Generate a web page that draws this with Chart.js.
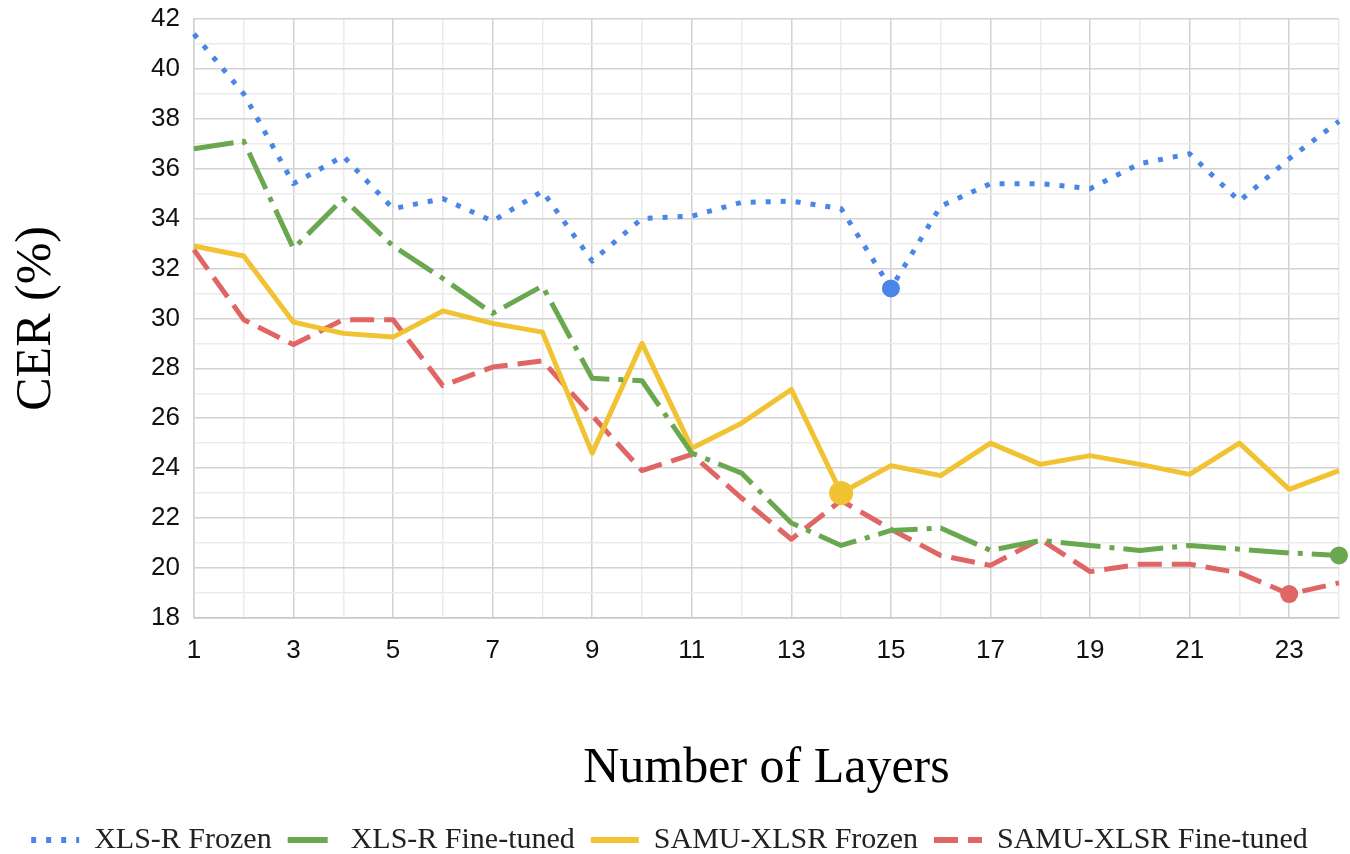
<!DOCTYPE html>
<html>
<head>
<meta charset="utf-8">
<title>CER by number of layers</title>
<script src="https://cdn.jsdelivr.net/npm/chart.js@4.4.1/dist/chart.umd.min.js"></script>
<style>
  html, body { margin: 0; padding: 0; background: #fff; }
  #wrap { width: 1350px; height: 854px; }
</style>
</head>
<body>
<div id="wrap"><canvas id="cerChart"></canvas></div>
<script>
// layers 1..24, CER (%)
const layers = [1, 2, 3, 4, 5, 6, 7, 8, 9, 10, 11, 12, 13, 14, 15, 16, 17, 18, 19, 20, 21, 22, 23, 24];
const xlsrFrozen = [41.4, 39.0, 35.4, 36.5, 34.4, 34.8, 33.9, 35.1, 32.3, 34.0, 34.1, 34.65, 34.7, 34.4, 31.2, 34.5, 35.4, 35.4, 35.2, 36.2, 36.6, 34.7, 36.4, 37.9];
const xlsrFineTuned = [36.8, 37.1, 32.8, 34.8, 32.9, 31.6, 30.2, 31.3, 27.6, 27.5, 24.6, 23.8, 21.8, 20.9, 21.5, 21.6, 20.7, 21.1, 20.9, 20.7, 20.9, 20.75, 20.6, 20.5];
const samuFrozen = [32.9, 32.5, 29.85, 29.4, 29.25, 30.3, 29.8, 29.45, 24.6, 29.0, 24.8, 25.8, 27.15, 23.0, 24.1, 23.7, 25.0, 24.15, 24.5, 24.15, 23.75, 25.0, 23.15, 23.9];
const samuFineTuned = [32.75, 29.95, 28.95, 29.95, 29.95, 27.3, 28.05, 28.3, 26.1, 23.9, 24.55, 22.8, 21.15, 22.7, 21.55, 20.5, 20.1, 21.15, 19.85, 20.15, 20.15, 19.8, 18.95, 19.4];

const yMin = 18;
const yMax = 42;

const BLUE = '#4a86e8';
const GREEN = '#6aa84f';
const YELLOW = '#f1c232';
const RED = '#e06666';

// only the best (lowest) layer of each series gets a dot
function minDot(values, r) {
    const best = values.indexOf(Math.min(...values));
    return values.map((v, i) => (i === best ? r : 0));
}

function line(label, values, color, dash, r) {
    return {
        label: label,
        data: values,
        borderColor: color,
        backgroundColor: color,
        borderWidth: 5,
        borderDash: dash,
        borderCapStyle: 'butt',
        borderJoinStyle: 'round',
        tension: 0,
        fill: false,
        pointRadius: minDot(values, r),
        pointHoverRadius: minDot(values, r),
        pointBackgroundColor: color,
        pointBorderWidth: 0
    };
}

const ctx = document.getElementById('cerChart').getContext('2d');
const chart = new Chart(ctx, {
    type: 'line',
    data: {
        labels: layers,
        datasets: [
            line('XLS-R Frozen', xlsrFrozen, BLUE, [5, 10], 9),
            line('XLS-R Fine-tuned', xlsrFineTuned, GREEN, [40, 9, 5, 9], 9),
            line('SAMU-XLSR Frozen', samuFrozen, YELLOW, [], 12),
            line('SAMU-XLSR Fine-tuned', samuFineTuned, RED, [24, 10], 9)
        ]
    },
    options: {
        responsive: true,
        maintainAspectRatio: false,
        animation: false,
        layout: {
            padding: { top: 19, right: 11, bottom: -11, left: 0 }
        },
        plugins: {
            tooltip: { enabled: false },
            legend: {
                position: 'bottom',
                labels: {
                    font: { family: 'Liberation Serif', size: 30 },
                    color: '#222',
                    usePointStyle: true,
                    pointStyleWidth: 48,
                    padding: 16,
                    generateLabels: (c) => c.data.datasets.map((ds, i) => ({
                        text: ds.label,
                        fillStyle: ds.borderColor,
                        strokeStyle: ds.borderColor,
                        lineWidth: 6,
                        lineDash: ds.borderDash,
                        lineCap: 'butt',
                        pointStyle: 'line',
                        fontColor: '#222',
                        hidden: !c.isDatasetVisible(i),
                        datasetIndex: i
                    }))
                }
            }
        },
        scales: {
            x: {
                type: 'category',
                offset: false,
                // keep the tick padding from pushing the plot in on the right
                afterFit: (s) => { s.paddingRight = 0; },
                border: { color: '#c8c8c8', width: 1.5 },
                grid: {
                    drawTicks: false,
                    lineWidth: 1.5,
                    color: (c) => (c.index % 2 === 0 ? '#d2d2d2' : '#ebebeb')
                },
                ticks: {
                    autoSkip: false,
                    maxRotation: 0,
                    padding: 17,
                    color: '#111',
                    font: { family: 'Liberation Sans', size: 26 },
                    callback: function (value, index) {
                        return index % 2 === 0 ? this.getLabelForValue(value) : '';
                    }
                },
                title: {
                    display: true,
                    text: 'Number of Layers',
                    color: '#000',
                    font: { family: 'Liberation Serif', size: 50 },
                    padding: { top: 56, bottom: 10 }
                }
            },
            y: {
                min: yMin,
                max: yMax,
                afterFit: (s) => { s.paddingTop = 0; },
                border: { color: '#d2d2d2', width: 1.5 },
                grid: {
                    drawTicks: false,
                    lineWidth: 1.5,
                    color: (c) => (c.tick.value % 2 === 0 ? '#d2d2d2' : '#ebebeb')
                },
                ticks: {
                    stepSize: 1,
                    autoSkip: false,
                    padding: 14,
                    color: '#111',
                    font: { family: 'Liberation Sans', size: 26 },
                    callback: (v) => (v % 2 === 0 ? v : '')
                },
                title: {
                    display: true,
                    text: 'CER (%)',
                    color: '#000',
                    font: { family: 'Liberation Serif', size: 50 },
                    padding: { top: 7, bottom: 70 }
                }
            }
        }
    }
});
</script>
</body>
</html>
